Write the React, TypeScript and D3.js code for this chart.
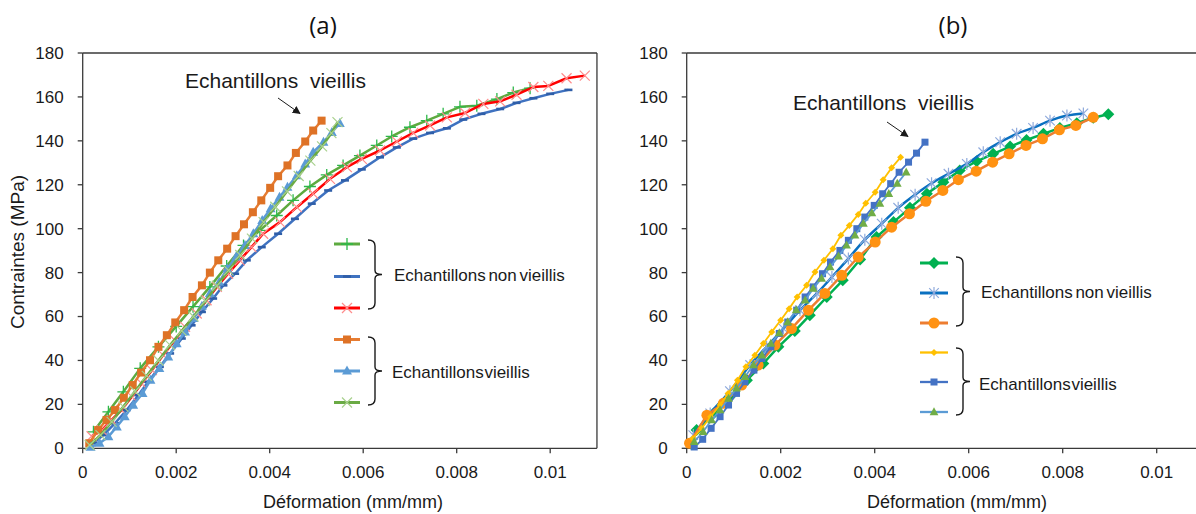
import React from 'react';
import * as d3 from 'd3';

type Pt = [number, number];

// ---------- shared axis data ----------
const xTicks = [0, 0.002, 0.004, 0.006, 0.008, 0.01];
const xTickLabels = ['0', '0.002', '0.004', '0.006', '0.008', '0.01'];
const yTicks = [0, 20, 40, 60, 80, 100, 120, 140, 160, 180];
const xLabel = 'Déformation (mm/mm)';
const yLabel = 'Contraintes (MPa)';
const groupNonAged = 'Echantillons non vieillis';
const groupAged = 'Echantillons vieillis';
const annotationText = 'Echantillons  vieillis';

// ---------- panel (a) ----------
const aNonAgedGreen: Pt[] = [
  [0.00023, 7.5], [0.00055, 16.6], [0.00087, 25.7], [0.00123, 36.4], [0.00162, 46.2], [0.002, 55.5],
  [0.00236, 64.5], [0.00272, 73.5], [0.00308, 83], [0.00344, 92.4], [0.00379, 99.2], [0.00415, 106],
  [0.0045, 112.9], [0.00486, 119.2], [0.00522, 124.5], [0.00557, 128.8], [0.00593, 133.3], [0.00629, 137.9],
  [0.00661, 142], [0.007, 146.2], [0.00736, 149.2], [0.00771, 152.3], [0.00807, 155.5], [0.00843, 156],
  [0.00886, 159], [0.00921, 162], [0.00957, 164],
];
const aNonAgedBlue: Pt[] = [
  [0.00023, 2.3], [0.00044, 6], [0.00069, 11.4], [0.00094, 17.4], [0.00119, 24.2], [0.0014, 30.3],
  [0.00165, 37.1], [0.00187, 43.2], [0.00212, 50], [0.00233, 56], [0.00255, 62.1], [0.00279, 68.2],
  [0.00301, 74.2], [0.00326, 79.5], [0.00351, 85.6], [0.00383, 91.6], [0.00418, 97.7], [0.00454, 104.5],
  [0.0049, 111.4], [0.00525, 117.4], [0.00561, 122], [0.00597, 127], [0.00636, 132.5], [0.00672, 137],
  [0.00707, 141], [0.00743, 143.6], [0.00779, 145.7], [0.00814, 149.7], [0.00853, 152.3], [0.00893, 154.5],
  [0.00928, 157.3], [0.00964, 159.4], [0.01, 161.4], [0.01039, 163.2],
];
const aNonAgedRed: Pt[] = [
  [0.00019, 5.5], [0.00041, 8.3], [0.00062, 12.9], [0.00083, 17.4], [0.00105, 23.5], [0.00126, 29.5],
  [0.00148, 35.6], [0.00172, 42.4], [0.00197, 49.2], [0.00219, 55.3], [0.00244, 61.4], [0.00265, 67.4],
  [0.00287, 73.5], [0.00311, 79.5], [0.00336, 85.6], [0.00361, 91.6], [0.00386, 97.7], [0.00422, 103],
  [0.00458, 109.8], [0.00493, 116], [0.00529, 122.7], [0.00565, 128], [0.00597, 131.8], [0.00636, 135.6],
  [0.00672, 139.7], [0.00707, 143.6], [0.00743, 147], [0.00779, 150.7], [0.00818, 152.7], [0.00857, 156.8],
  [0.00893, 158], [0.00928, 161], [0.00964, 164.5], [0.00996, 165], [0.01035, 168.5], [0.01074, 169.7],
];
const aAgedOrange: Pt[] = [
  [0.00014, 2.3], [0.00033, 8.3], [0.00051, 12.9], [0.00069, 17.4], [0.00088, 23], [0.00107, 28.8],
  [0.00125, 34.5], [0.00144, 40.1], [0.00162, 46.2], [0.0018, 51.5], [0.00198, 57.3], [0.00217, 62.9],
  [0.00235, 68.9], [0.00255, 74.2], [0.00272, 80], [0.0029, 85.6], [0.00309, 90.9], [0.00327, 96.6],
  [0.00345, 102], [0.00364, 107.5], [0.00382, 112.9], [0.00401, 118.6], [0.00418, 123.9], [0.00438, 128.8],
  [0.00456, 134.5], [0.00476, 139.7], [0.00493, 144.7], [0.00511, 149.2],
];
const aAgedBlueTri: Pt[] = [
  [0.00017, 0.5], [0.00036, 2.3], [0.00055, 5.3], [0.00073, 9.8], [0.0009, 14.4], [0.00108, 19.7],
  [0.00128, 25], [0.00145, 31], [0.00164, 36.4], [0.00183, 41.6], [0.00201, 47.7], [0.00219, 53],
  [0.00237, 59.1], [0.00255, 64.7], [0.00272, 70.5], [0.00292, 75.7], [0.00309, 81.8], [0.00328, 87.1],
  [0.00347, 92.4], [0.00365, 97.7], [0.00384, 103.8], [0.00402, 109.1], [0.00421, 114.4], [0.00438, 118.9],
  [0.00458, 124.2], [0.00476, 129.5], [0.00493, 134.8], [0.00515, 139.4], [0.00533, 143.9], [0.0055, 148],
];
const aAgedGreenX: Pt[] = [
  [0.00015, 1.5], [0.00038, 6], [0.00062, 12], [0.00087, 19], [0.00112, 26], [0.00137, 33],
  [0.00162, 40], [0.00187, 47], [0.00212, 53.5], [0.00237, 60], [0.00262, 67], [0.00287, 74],
  [0.00312, 81], [0.00337, 88], [0.00362, 95.5], [0.00387, 103], [0.00412, 110], [0.00437, 117],
  [0.00462, 124], [0.00487, 131], [0.00512, 137.5], [0.00532, 143.5], [0.00545, 148.5],
];

// ---------- panel (b) ----------
const bNonAgedGreen: Pt[] = [
  [0.0001, 2], [0.00021, 8.3], [0.00057, 15.9], [0.00092, 23.5], [0.00128, 31], [0.00163, 38.6],
  [0.00195, 46.2], [0.0023, 53.4], [0.00262, 60.6], [0.00298, 68.9], [0.00332, 76.5], [0.00369, 86],
  [0.00404, 96.2], [0.0044, 103], [0.00475, 109.5], [0.00511, 115.9], [0.00546, 121.2], [0.00581, 126.5],
  [0.00617, 130.7], [0.00652, 134.1], [0.00688, 137.4], [0.00723, 140.4], [0.00759, 143.2], [0.00794, 145.9],
  [0.0083, 148], [0.00865, 150.5], [0.00897, 152.1],
];
const bNonAgedBlue: Pt[] = [
  [0.00014, 6], [0.0005, 15.9], [0.00092, 26], [0.00135, 37.9], [0.0017, 46.2], [0.00206, 54.5],
  [0.00241, 62.9], [0.00277, 70.5], [0.00309, 78], [0.00344, 86.4], [0.00379, 95], [0.00415, 102.3],
  [0.0045, 109.5], [0.00486, 115.5], [0.00521, 120.7], [0.00557, 125], [0.00596, 129.5], [0.00631, 134.8],
  [0.00667, 139.4], [0.00702, 143.2], [0.00737, 145.9], [0.00773, 149.2], [0.00809, 151.5], [0.00844, 152.5],
];
const bNonAgedOrange: Pt[] = [
  [0.00006, 2.3], [0.00043, 15.1], [0.00078, 20.5], [0.00117, 28.8], [0.00152, 37.9], [0.00188, 47],
  [0.00223, 54.5], [0.00259, 62.9], [0.00294, 70.5], [0.0033, 78.8], [0.00365, 87.1], [0.00401, 93.9],
  [0.00436, 100.7], [0.00474, 106.8], [0.00509, 112.5], [0.00545, 117.4], [0.00578, 122.3], [0.00616, 126.2],
  [0.00651, 130.3], [0.00686, 134.1], [0.00722, 137.9], [0.00757, 140.9], [0.00793, 145], [0.00828, 147],
  [0.00865, 150.7],
];
const bAgedYellow: Pt[] = [
  [0.00013, 4.5], [0.00032, 9.1], [0.00051, 14.4], [0.00071, 19.7], [0.00088, 25], [0.00108, 31],
  [0.00126, 37.1], [0.00145, 42.4], [0.00163, 47.7], [0.00181, 53], [0.002, 58.3], [0.00218, 63.6],
  [0.00235, 68.9], [0.00255, 74.2], [0.00273, 80.3], [0.00292, 85.6], [0.00311, 90.9], [0.00328, 97],
  [0.00346, 101.5], [0.00365, 106.5], [0.00381, 111.6], [0.00401, 116.6], [0.00418, 122.3], [0.00436, 127.7],
  [0.00455, 132.5],
];
const bAgedBlueSq: Pt[] = [
  [0.00016, 0.6], [0.00034, 4.1], [0.00052, 9.1], [0.00071, 14.4], [0.00089, 19.7], [0.00106, 25],
  [0.00124, 30.3], [0.00143, 35.6], [0.0016, 40.9], [0.00179, 46.2], [0.00197, 52.3], [0.00215, 57.5],
  [0.00234, 62.9], [0.00252, 68.9], [0.00269, 73.5], [0.00289, 79.5], [0.00306, 84.8], [0.00326, 90.1],
  [0.00344, 94.7], [0.00362, 100], [0.00379, 105.3], [0.00399, 110.6], [0.00417, 115.9], [0.00434, 120.5],
  [0.00452, 125.7], [0.00472, 130.3], [0.00489, 134.4], [0.00507, 139.4],
];
const bAgedTri: Pt[] = [
  [0.00016, 3], [0.00035, 7.5], [0.00053, 12.9], [0.00071, 17.4], [0.00089, 22.7], [0.00106, 27.3],
  [0.00124, 32.6], [0.00142, 37.9], [0.0016, 42.4], [0.00179, 47.7], [0.00197, 52.5], [0.00215, 57.5],
  [0.00233, 62.9], [0.00252, 67.4], [0.00269, 72.7], [0.00287, 77.3], [0.00305, 82.5], [0.00323, 87.4],
  [0.0034, 92.4], [0.00358, 97], [0.00376, 102.3], [0.00394, 107.1], [0.00411, 111.4], [0.0043, 115.9],
  [0.00448, 120.5], [0.00467, 125.7],
];

type Marker = 'plus' | 'dash' | 'x' | 'square' | 'triangle' | 'diamond' | 'star' | 'circle' | 'smalldiamond';
interface Series { data: Pt[]; line: string; width: number; marker: Marker; mfill: string; msize: number; smooth?: boolean; }

const aSeries: Series[] = [
  { data: aNonAgedGreen, line: '#5DAA3F', width: 2.5, marker: 'plus', mfill: '#2DB84A', msize: 6 },
  { data: aNonAgedBlue, line: '#3F72C0', width: 2.5, marker: 'dash', mfill: '#2F5EA8', msize: 4 },
  { data: aNonAgedRed, line: '#FF0000', width: 2.5, marker: 'x', mfill: '#FF8C8C', msize: 5 },
  { data: aAgedOrange, line: '#E67C32', width: 2.5, marker: 'square', mfill: '#DE7226', msize: 8 },
  { data: aAgedBlueTri, line: '#5B9BD5', width: 2.5, marker: 'triangle', mfill: '#5B9BD5', msize: 9 },
  { data: aAgedGreenX, line: '#6AAA44', width: 2.5, marker: 'x', mfill: '#A9D18E', msize: 5 },
];
const bSeries: Series[] = [
  { data: bNonAgedGreen, line: '#00B050', width: 2.5, marker: 'diamond', mfill: '#00B050', msize: 6 },
  { data: bNonAgedBlue, line: '#0A70C0', width: 2.5, marker: 'star', mfill: '#8FAADC', msize: 6, smooth: true },
  { data: bNonAgedOrange, line: '#ED7D31', width: 2.5, marker: 'circle', mfill: '#FF9212', msize: 5.5 },
  { data: bAgedYellow, line: '#FFC000', width: 1.8, marker: 'smalldiamond', mfill: '#FFC000', msize: 3.5 },
  { data: bAgedBlueSq, line: '#4472C4', width: 1.8, marker: 'square', mfill: '#4472C4', msize: 7 },
  { data: bAgedTri, line: '#5B9BD5', width: 1.8, marker: 'triangle', mfill: '#70AD47', msize: 8 },
];

const FONT = '"Liberation Sans", Arial, sans-serif';

function MarkerShape({ type, x, y, fill, s }: { type: Marker; x: number; y: number; fill: string; s: number }) {
  const t = `translate(${x},${y})`;
  switch (type) {
    case 'plus':
      return <path transform={t} d={`M${-s},0H${s}M0,${-s}V${s}`} stroke={fill} strokeWidth={1.3} fill="none" />;
    case 'dash':
      return <path transform={t} d={`M${-s},0H${s}`} stroke={fill} strokeWidth={2.6} fill="none" />;
    case 'x':
      return <path transform={t} d={`M${-s},${-s}L${s},${s}M${-s},${s}L${s},${-s}`} stroke={fill} strokeWidth={1.2} fill="none" />;
    case 'star':
      return <path transform={t} d={`M${-s * 0.8},${-s * 0.8}L${s * 0.8},${s * 0.8}M${-s * 0.8},${s * 0.8}L${s * 0.8},${-s * 0.8}M0,${-s}V${s}`} stroke={fill} strokeWidth={1.2} fill="none" />;
    case 'square':
      return <rect x={x - s / 2} y={y - s / 2} width={s} height={s} fill={fill} />;
    case 'circle':
      return <circle cx={x} cy={y} r={s} fill={fill} />;
    case 'triangle':
      return <path transform={t} d={`M0,${-s * 0.6}L${s * 0.55},${s * 0.4}L${-s * 0.55},${s * 0.4}Z`} fill={fill} />;
    case 'diamond':
    case 'smalldiamond':
      return <path transform={t} d={`M0,${-s}L${s},0L0,${s}L${-s},0Z`} fill={fill} />;
  }
  return null;
}

function Brace({ x0, y1, y2, w }: { x0: number; y1: number; y2: number; w: number }) {
  const ym = (y1 + y2) / 2;
  const r = 6;
  const xv = x0 + w;
  const d = `M${x0},${y1} Q${xv},${y1} ${xv},${y1 + r} L${xv},${ym - 4} Q${xv},${ym} ${xv + w},${ym} Q${xv},${ym} ${xv},${ym + 4} L${xv},${y2 - r} Q${xv},${y2} ${x0},${y2}`;
  return <path d={d} fill="none" stroke="#1a1a1a" strokeWidth={1.4} />;
}

interface PanelCfg {
  left: number; pxPerUnit: number; series: Series[]; title: string; titleX: number;
  legendYs: number[]; legendX1: number; legendX2: number;
  brace1: [number, number, number]; brace2: [number, number, number]; braceX: number;
  text1: [number, number]; text2: [number, number];
  annot: [number, number]; arrow: [number, number, number, number];
  xLabelX: number; showYLabel: boolean; rightBorder: boolean;
}

function Panel({ c }: { c: PanelCfg }) {
  const x = d3.scaleLinear().domain([0, 0.011]).range([c.left, c.left + 0.011 * c.pxPerUnit]);
  const y = d3.scaleLinear().domain([0, 180]).range([448.3, 53]);
  const [x0, x1] = x.range();
  const [yb, yt] = y.range();
  const line = d3.line<Pt>().x(d => x(d[0])).y(d => y(d[1]));
  const smoothLine = d3.line<Pt>().x(d => x(d[0])).y(d => y(d[1])).curve(d3.curveMonotoneX);
  const axisColor = '#3a3a3a';
  return (
    <g>
      <text x={c.titleX} y={28} textAnchor="middle" dominantBaseline="middle" fontFamily='"Open Sans", "Noto Sans", sans-serif' fontSize={24} fill="#111">{c.title}</text>
      {/* frame */}
      <line x1={x0} x2={x1} y1={yt} y2={yt} stroke={axisColor} strokeWidth={1.3} />
      {c.rightBorder && <line x1={x1} x2={x1} y1={yt} y2={yb} stroke={axisColor} strokeWidth={1.3} />}
      <line x1={x0} x2={x0} y1={yt} y2={yb} stroke={axisColor} strokeWidth={1.3} />
      <line x1={x0} x2={x1} y1={yb} y2={yb} stroke={axisColor} strokeWidth={1.3} />
      {yTicks.map(v => (
        <g key={'y' + v}>
          <line x1={x0 - 5} x2={x0} y1={y(v)} y2={y(v)} stroke={axisColor} strokeWidth={1.3} />
          <text x={x0 - 19} y={y(v)} dy="0.35em" textAnchor="end" fontFamily={FONT} fontSize={17} fill="#1a1a1a">{v}</text>
        </g>
      ))}
      {xTicks.map((v, i) => (
        <g key={'x' + v}>
          <line x1={x(v)} x2={x(v)} y1={yb} y2={yb + 5} stroke={axisColor} strokeWidth={1.3} />
          <text x={x(v)} y={472} dy="0.35em" textAnchor="middle" fontFamily={FONT} fontSize={17} fill="#1a1a1a">{xTickLabels[i]}</text>
        </g>
      ))}
      <text x={c.xLabelX} y={502} dy="0.35em" textAnchor="middle" fontFamily={FONT} fontSize={18} fill="#1a1a1a">{xLabel}</text>
      {c.showYLabel && (
        <text transform={`translate(17,252) rotate(-90)`} textAnchor="middle" dy="0.35em" fontFamily={FONT} fontSize={19} fill="#1a1a1a">{yLabel}</text>
      )}
      {/* series */}
      {c.series.map((s, i) => (
        <g key={'s' + i}>
          <path d={(s.smooth ? smoothLine : line)(s.data) || ''} fill="none" stroke={s.line} strokeWidth={s.width} strokeLinejoin="round" />
          {s.data.map((d, j) => (
            <MarkerShape key={j} type={s.marker} x={x(d[0])} y={y(d[1])} fill={s.mfill} s={s.msize} />
          ))}
        </g>
      ))}
      {/* legend */}
      {c.series.map((s, i) => (
        <g key={'l' + i}>
          <line x1={c.legendX1} x2={c.legendX2} y1={c.legendYs[i]} y2={c.legendYs[i]} stroke={s.line} strokeWidth={s.width + 0.5} />
          <MarkerShape type={s.marker} x={(c.legendX1 + c.legendX2) / 2} y={c.legendYs[i]} fill={s.mfill} s={s.msize} />
        </g>
      ))}
      <Brace x0={c.braceX} y1={c.brace1[0]} y2={c.brace1[1]} w={7} />
      <Brace x0={c.braceX} y1={c.brace2[0]} y2={c.brace2[1]} w={7} />
      <text x={c.text1[0]} y={c.text1[1]} dy="0.35em" fontFamily={FONT} fontSize={17} fill="#1a1a1a" wordSpacing={-2}>{groupNonAged}</text>
      <text x={c.text2[0]} y={c.text2[1]} dy="0.35em" fontFamily={FONT} fontSize={17} fill="#1a1a1a" wordSpacing={-4}>{groupAged}</text>
      {/* annotation */}
      <text x={c.annot[0]} y={c.annot[1]} fontFamily={FONT} fontSize={21} fill="#1a1a1a" style={{ whiteSpace: 'pre' }}>{annotationText}</text>
      <line x1={c.arrow[0]} y1={c.arrow[1]} x2={c.arrow[2]} y2={c.arrow[3]} stroke="#1a1a1a" strokeWidth={1} markerEnd="url(#arrowhead)" />
    </g>
  );
}

const panelA: PanelCfg = {
  left: 82.7, pxPerUnit: 46750, series: aSeries, title: '(a)', titleX: 323,
  legendYs: [244, 276.5, 308, 339.5, 371, 402.5], legendX1: 334, legendX2: 360,
  brace1: [240, 309, 0], brace2: [337, 405, 0], braceX: 368,
  text1: [394, 275], text2: [392, 372],
  annot: [185, 88], arrow: [278, 98, 300, 113.5],
  xLabelX: 353, showYLabel: true, rightBorder: true,
};
const panelB: PanelCfg = {
  left: 686.7, pxPerUnit: 47000, series: bSeries, title: '(b)', titleX: 953,
  legendYs: [263, 293, 323, 352.5, 382, 412], legendX1: 920, legendX2: 948,
  brace1: [257, 326, 0], brace2: [348, 415, 0], braceX: 956,
  text1: [981, 292], text2: [979, 384],
  annot: [793, 110], arrow: [887, 122, 908, 136.5],
  xLabelX: 957, showYLabel: false, rightBorder: true,
};

export default function App() {
  return (
    <svg width={1196} height={514} style={{ position: 'absolute', left: 0, top: 0, background: '#fff' }}>
      <defs>
        <marker id="arrowhead" viewBox="0 0 10 10" refX="9" refY="5" markerWidth="8" markerHeight="8" orient="auto" markerUnits="userSpaceOnUse">
          <path d="M0,0 L10,5 L0,10 Z" fill="#1a1a1a" />
        </marker>
      </defs>
      <rect x={0} y={0} width={1196} height={514} fill="#fff" />
      <Panel c={panelA} />
      <Panel c={panelB} />
    </svg>
  );
}
